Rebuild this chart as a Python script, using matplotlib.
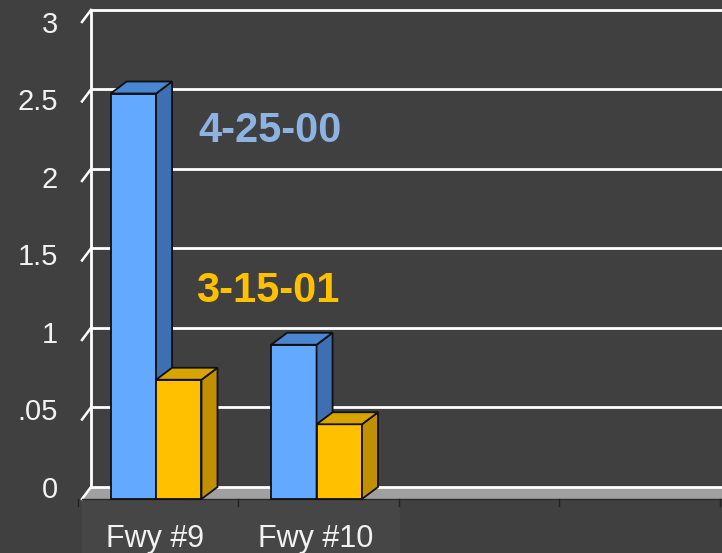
import matplotlib.pyplot as plt
from matplotlib.patches import Polygon, Rectangle
import numpy as np

# data
categories = ["Fwy #9", "Fwy #10", "", ""]
dates = ["4-25-00", "3-15-01"]
readings_2000 = [2.55, 0.97]
readings_2001 = [0.75, 0.47]
ytick_values = [0, 0.5, 1, 1.5, 2, 2.5, 3]
ytick_labels = ["0", ".05", "1", "1.5", "2", "2.5", "3"]

plt.rcParams['font.family'] = ['Liberation Sans', 'DejaVu Sans']

BG = '#404040'
fronts = ['#63a9ff', '#ffc000']
sides = ['#3d6fb2', '#c09000']
tops = ['#4a87d2', '#d8a500']
date_colors = ['#8db3e2', '#ffc000']

fig = plt.figure(figsize=(7.22, 5.53), dpi=100, facecolor=BG)
ax = fig.add_axes([0, 0, 1, 1])
ax.set_facecolor(BG)
ax.set_xlim(-0.9844, 3.514)
ax.set_ylim(-0.3396, 3.138)
ax.axis('off')


def shift(pts, dx, dy):
    # move data points by a pixel offset (fake depth)
    disp = ax.transData.transform(np.atleast_2d(pts)) + [dx, dy]
    return ax.transData.inverted().transform(disp)


wall_dx, wall_dy = 9, 12
bar_dx, bar_dy = 16, 12
x_left = -0.4735
x_right = 3.7

# slightly lighter strip under the labels
ax.add_patch(Rectangle((x_left, -0.4), 1.508 - x_left, 0.4 - 0.006,
                       facecolor='#464646', edgecolor='none', zorder=0))

# floor
fl = np.vstack([[x_left, 0], [x_right, 0],
                shift([x_right, 0], wall_dx, wall_dy),
                shift([x_left, 0], wall_dx, wall_dy)])
ax.add_patch(Polygon(fl, closed=True, facecolor='#a0a0a0',
                     edgecolor='none', zorder=1))

# back wall grid + left wall diagonals
for v in ytick_values:
    b0 = shift([x_left, v], wall_dx, wall_dy)[0]
    b1 = shift([x_right, v], wall_dx, wall_dy)[0]
    ax.plot([b0[0], b1[0]], [b0[1], b1[1]], color='white', lw=2.0,
            solid_capstyle='butt', zorder=2)
    ax.plot([x_left, b0[0]], [v, b0[1]], color='white', lw=1.8, zorder=2)
top_b = shift([x_left, ytick_values[-1]], wall_dx, wall_dy)[0]
bot_b = shift([x_left, 0], wall_dx, wall_dy)[0]
ax.plot([top_b[0], bot_b[0]], [top_b[1], bot_b[1]], color='white', lw=2.0, zorder=2)

# axis line and category ticks
ax.plot([x_left, x_right], [0, 0], color='#2a2a2a', lw=1.0, zorder=3)
for b in np.arange(len(categories) + 1) - 0.5:
    ax.plot([b, b], [0, -7 / 159], color='#222222', lw=1.0, zorder=3)

# bars
w = 0.283
off = -0.012
z = 5
for i in range(2):
    vals = [readings_2000[i], readings_2001[i]]
    for j, v in enumerate(vals):
        x0 = i + off + (j - 1) * w
        ax.add_patch(Rectangle((x0, 0), w, v, facecolor=fronts[j],
                               edgecolor='#101010', lw=1.3, zorder=z))
        side = np.vstack([[x0 + w, 0], [x0 + w, v],
                          shift([x0 + w, v], bar_dx, bar_dy),
                          shift([x0 + w, 0], bar_dx, bar_dy)])
        ax.add_patch(Polygon(side, closed=True, facecolor=sides[j],
                             edgecolor='#101010', lw=1.3, zorder=z))
        top = np.vstack([[x0, v], [x0 + w, v],
                         shift([x0 + w, v], bar_dx, bar_dy),
                         shift([x0, v], bar_dx, bar_dy)])
        ax.add_patch(Polygon(top, closed=True, facecolor=tops[j],
                             edgecolor='#101010', lw=1.3, zorder=z))
        z += 1

# y tick labels
for v, lab in zip(ytick_values, ytick_labels):
    ax.text(-0.6231, (1 + 155 * v) / 159, lab, ha='right', va='baseline',
            fontsize=21, color='#f2f2f2', zorder=10)

# category labels
for i, lab in enumerate(categories):
    if lab:
        ax.text(i - 0.02, -48 / 159, lab, ha='center', va='baseline',
                fontsize=22, color='#f2f2f2', zorder=10)

# series date labels
ax.text(0.698, 357 / 159, dates[0], ha='center', va='baseline',
        fontsize=30, fontweight='bold', color=date_colors[0], zorder=10)
ax.text(0.686, 197 / 159, dates[1], ha='center', va='baseline',
        fontsize=30, fontweight='bold', color=date_colors[1], zorder=10)

fig.savefig('out.png', dpi=100, facecolor=BG)
